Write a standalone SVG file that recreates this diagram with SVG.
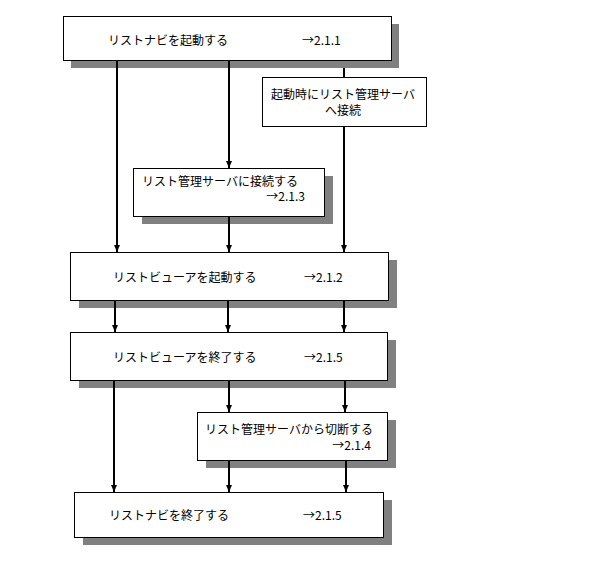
<svg xmlns="http://www.w3.org/2000/svg" width="604" height="567" viewBox="0 0 604 567">
<style>
.bg{fill:#ffffff}
.sh{fill:#808080}
.bx{fill:#ffffff;stroke:#000000;stroke-width:1}
.t{font-family:"Noto Sans CJK JP","Noto Sans CJK SC",sans-serif;font-size:12px;fill:#000000}
.c{fill:none;stroke:#000000;stroke-width:2}
</style>
<defs>
<marker id="ah" viewBox="0 0 7 6" refX="7" refY="3" markerWidth="7" markerHeight="6" orient="auto" markerUnits="userSpaceOnUse">
<path d="M0,0 L7,3 L0,6 z" fill="#000000"/>
</marker>
</defs>
<rect class="bg" x="0" y="0" width="604" height="567"/>
<g id="node-start-navi">
<rect class="sh" x="71" y="24" width="328" height="44"/>
<rect class="bx" x="63.5" y="16.5" width="328" height="44"/>
<text class="t" x="108" y="44.5">リストナビを起動する</text>
<text class="t" x="302" y="44.5">→2.1.1</text>
</g>
<g id="node-auto-connect">
<rect class="bx" x="262.5" y="77.5" width="164" height="49"/>
<text class="t" x="343" y="99" text-anchor="middle">起動時にリスト管理サーバ</text>
<text class="t" x="343" y="114.5" text-anchor="middle">へ接続</text>
</g>
<g id="node-connect-server">
<rect class="sh" x="142" y="176" width="191" height="48"/>
<rect class="bx" x="133.5" y="168.5" width="191" height="48"/>
<text class="t" x="142" y="186">リスト管理サーバに接続する</text>
<text class="t" x="305" y="201" text-anchor="end">→2.1.3</text>
</g>
<g id="node-start-viewer">
<rect class="sh" x="79" y="260" width="318" height="48"/>
<rect class="bx" x="70.5" y="252.5" width="318" height="48"/>
<text class="t" x="113" y="282">リストビューアを起動する</text>
<text class="t" x="304" y="282">→2.1.2</text>
</g>
<g id="node-end-viewer">
<rect class="sh" x="79" y="340" width="317" height="48"/>
<rect class="bx" x="70.5" y="332.5" width="317" height="48"/>
<text class="t" x="113" y="361.5">リストビューアを終了する</text>
<text class="t" x="304" y="361.5">→2.1.5</text>
</g>
<g id="node-disconnect-server">
<rect class="sh" x="206" y="420" width="190" height="48"/>
<rect class="bx" x="197.5" y="412.5" width="190" height="48"/>
<text class="t" x="205" y="434">リスト管理サーバから切断する</text>
<text class="t" x="371" y="449.5" text-anchor="end">→2.1.4</text>
</g>
<g id="node-end-navi">
<rect class="sh" x="83" y="500" width="309" height="45"/>
<rect class="bx" x="74.5" y="492.5" width="309" height="45"/>
<text class="t" x="109" y="519.5">リストナビを終了する</text>
<text class="t" x="303" y="519.5">→2.1.5</text>
</g>
<g id="connectors">
<line class="c" x1="117" y1="61" x2="117" y2="252" marker-end="url(#ah)"/>
<line class="c" x1="229" y1="61" x2="229" y2="168" marker-end="url(#ah)"/>
<line class="c" x1="229" y1="217" x2="229" y2="252" marker-end="url(#ah)"/>
<line class="c" x1="344" y1="68" x2="344" y2="77"/>
<line class="c" x1="344" y1="127" x2="344" y2="252" marker-end="url(#ah)"/>
<line class="c" x1="115" y1="301" x2="115" y2="332" marker-end="url(#ah)"/>
<line class="c" x1="228" y1="301" x2="228" y2="332" marker-end="url(#ah)"/>
<line class="c" x1="344" y1="301" x2="344" y2="332" marker-end="url(#ah)"/>
<line class="c" x1="114" y1="381" x2="114" y2="492" marker-end="url(#ah)"/>
<line class="c" x1="229" y1="381" x2="229" y2="412" marker-end="url(#ah)"/>
<line class="c" x1="345" y1="381" x2="345" y2="412" marker-end="url(#ah)"/>
<line class="c" x1="229" y1="461" x2="229" y2="492" marker-end="url(#ah)"/>
<line class="c" x1="346" y1="461" x2="346" y2="492" marker-end="url(#ah)"/>
</g>
</svg>
